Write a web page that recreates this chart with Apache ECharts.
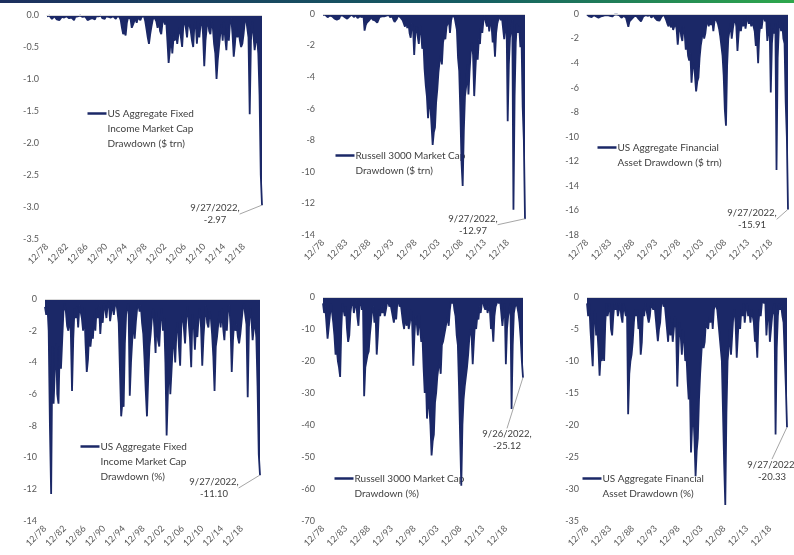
<!DOCTYPE html>
<html>
<head>
<meta charset="utf-8">
<script src="https://cdn.jsdelivr.net/npm/echarts@6/dist/echarts.min.js"></script>
<style>
  html, body { margin: 0; padding: 0; background: #fff; }
  #chart { width: 794px; height: 555px; }
</style>
</head>
<body>
<div id="chart"></div>
<script>
  // quarter ends, 12/78 .. 9/22
  var quarters = ['12/78']
  for (var y = 1979; y <= 2022; y++) {
    ['3', '6', '9', '12'].forEach(function (m) {
      if (y === 2022 && m === '12') return
      quarters.push(m + '/' + String(y).slice(2))
    })
  }

  var ticksFour = ['12/78', '12/82', '12/86', '12/90', '12/94', '12/98', '12/02', '12/06', '12/10', '12/14', '12/18']
  var ticksFive = ['12/78', '12/83', '12/88', '12/93', '12/98', '12/03', '12/08', '12/13', '12/18']

  var names = [
    'US Aggregate Fixed\nIncome Market Cap\nDrawdown ($ trn)',
    'Russell 3000 Market Cap\nDrawdown ($ trn)',
    'US Aggregate Financial\nAsset Drawdown ($ trn)',
    'US Aggregate Fixed\nIncome Market Cap\nDrawdown (%)',
    'Russell 3000 Market Cap\nDrawdown (%)',
    'US Aggregate Financial\nAsset Drawdown (%)'
  ]
  var endDates = ['9/27/2022', '9/27/2022', '9/27/2022', '9/27/2022', '9/26/2022', '9/27/2022']

  // US aggregate fixed income market cap drawdown, $ trn
  var fixedIncomeTrn = [-0.02,
    -0.03, -0.01, -0.04, -0.06, -0.08, -0.02, -0.05, -0.07, -0.05, -0.08, -0.09, -0.03, -0.02, -0.04, -0.01, -0.02,
    -0.03, -0.05, -0.02, -0.04, -0.06, -0.08, -0.03, -0.01, -0.02, -0.04, -0.01, -0.02, -0.03, -0.06, -0.02, -0.04,
    -0.08, -0.10, -0.06, -0.03, -0.05, -0.03, -0.07, -0.02, -0.04, -0.02, -0.03, -0.01, -0.05, -0.03, -0.06, -0.02,
    -0.01, -0.03, -0.02, -0.04, -0.05, -0.02, -0.03, -0.06, -0.02, -0.01, -0.03, -0.08, -0.20, -0.30, -0.26, -0.32,
    -0.12, -0.04, -0.02, -0.06, -0.20, -0.15, -0.10, -0.05, -0.12, -0.04, -0.02, -0.08, -0.03, -0.06, -0.02, -0.10,
    -0.22, -0.35, -0.45, -0.30, -0.18, -0.08, -0.02, -0.04, -0.10, -0.20, -0.05, -0.25, -0.30, -0.12, -0.05, -0.15,
    -0.08, -0.40, -0.75, -0.55, -0.30, -0.60, -0.35, -0.40, -0.25, -0.45, -0.30, -0.20, -0.35, -0.50, -0.15, -0.10,
    -0.20, -0.35, -0.08, -0.05, -0.25, -0.40, -0.50, -0.15, -0.10, -0.45, -0.20, -0.35, -0.15, -0.05, -0.30, -0.80,
    -0.40, -0.20, -0.05, -0.25, -0.30, -0.10, -0.20, -0.45, -0.60, -1.00, -0.70, -0.50, -0.30, -0.15, -0.40, -0.10,
    -0.35, -0.55, -0.20, -0.40, -0.10, -0.05, -0.30, -0.65, -0.45, -0.20, -0.35, -0.25, -0.40, -0.50, -0.45, -0.30,
    -0.10, -0.05, -0.20, -0.35, -1.55, -0.40, -0.10, -0.30, -0.55, -0.40, -0.35, -0.60,
    -1.25, -2.50, -2.97]

  // Russell 3000 market cap drawdown, $ trn
  var russellTrn = [-0.05,
    -0.10, -0.05, -0.15, -0.20, -0.25, -0.10, -0.05, -0.15, -0.20, -0.30, -0.40, -0.35, -0.45, -0.30, -0.10, -0.05,
    -0.10, -0.15, -0.20, -0.10, -0.30, -0.25, -0.15, -0.10, -0.05, -0.15, -0.20, -0.05, -0.10, -0.25, -0.30, -0.15,
    -0.10, -0.20, -0.05, -1.05, -0.70, -0.55, -0.60, -0.40, -0.30, -0.20, -0.35, -0.25, -0.40, -0.30, -0.55, -0.45,
    -0.20, -0.10, -0.15, -0.25, -0.15, -0.20, -0.10, -0.15, -0.05, -0.20, -0.10, -0.15, -0.35, -0.50, -0.40, -0.30,
    -0.10, -0.05, -0.20, -0.15, -0.40, -0.60, -0.80, -0.30, -0.90, -0.50, -1.20, -1.50, -0.60, -0.90, -2.60, -1.20,
    -0.80, -1.40, -1.90, -0.70, -1.20, -2.20, -1.80, -3.50, -4.50, -5.20, -6.60, -5.50, -5.80, -7.00, -8.30, -7.50,
    -7.20, -5.60, -4.80, -3.70, -3.00, -2.60, -3.20, -1.80, -1.40, -1.60, -0.80, -0.60, -0.30, -1.20, -0.40, -0.10,
    -0.05, -0.20, -0.60, -1.00, -2.80, -3.60, -6.20, -9.40, -10.90, -7.40, -5.20, -4.60, -3.20, -5.10, -3.60, -2.40,
    -1.80, -2.60, -5.20, -3.60, -2.10, -2.90, -1.60, -1.90, -0.60, -1.20, -0.40, -0.10, -0.50, -0.80, -0.30, -1.10,
    -0.40, -0.70, -1.80, -1.40, -2.70, -1.20, -0.60, -0.30, -0.10, -0.40, -0.20, -0.10, -1.60, -0.90, -0.20, -6.80,
    -3.20, -1.50, -1.00, -0.40, -12.40, -5.20, -1.80, -0.60, -1.20, -0.80, -2.10, -1.60,
    -5.90, -8.00, -12.97]

  // US aggregate financial asset drawdown, $ trn
  var financialTrn = [-0.05,
    -0.10, -0.20, -0.15, -0.25, -0.30, -0.10, -0.05, -0.20, -0.25, -0.30, -0.35, -0.20, -0.30, -0.15, -0.05, -0.10,
    -0.05, -0.10, -0.20, -0.15, -0.30, -0.20, -0.10, -0.05, -0.10, -0.05, -0.15, -0.10, -0.20, -0.30, -0.25, -0.15,
    -0.10, -0.30, -0.20, -1.05, -0.60, -0.50, -0.40, -0.30, -0.20, -0.30, -0.15, -0.25, -0.40, -0.35, -0.60, -0.45,
    -0.20, -0.15, -0.10, -0.25, -0.15, -0.20, -0.10, -0.30, -0.20, -0.10, -0.30, -0.40, -0.50, -0.65, -0.55, -0.40,
    -0.20, -0.10, -0.05, -0.15, -0.50, -0.80, -1.00, -0.40, -1.10, -0.60, -1.30, -1.00, -0.80, -1.20, -2.50, -1.40,
    -0.90, -1.80, -2.20, -1.00, -1.50, -2.90, -2.20, -3.40, -3.80, -3.20, -5.60, -4.20, -4.00, -5.00, -6.30, -5.50,
    -5.20, -3.60, -2.60, -2.00, -1.20, -2.00, -1.60, -0.80, -0.60, -1.00, -0.40, -0.90, -0.50, -1.40, -0.60, -0.30,
    -0.40, -0.80, -1.20, -1.80, -2.60, -3.40, -5.00, -7.80, -9.10, -4.20, -2.00, -1.40, -0.80, -2.00, -1.20, -0.60,
    -0.40, -1.00, -3.00, -1.60, -0.80, -1.40, -0.60, -1.00, -0.40, -1.20, -0.60, -0.20, -0.80, -0.40, -1.00, -0.60,
    -1.00, -1.40, -2.60, -2.00, -4.00, -1.60, -0.80, -1.20, -0.40, -0.20, -0.60, -0.30, -2.20, -1.40, -0.80, -6.40,
    -2.40, -1.20, -1.60, -0.80, -12.70, -3.60, -1.20, -0.50, -1.40, -0.80, -2.00, -2.40,
    -7.20, -10.00, -15.91]

  // US aggregate fixed income market cap drawdown, %
  var fixedIncomePct = [-0.5,
    -1.0, -0.4, -2.0, -8.0, -12.3, -3.0, -6.6, -4.5, -2.8, -6.0, -6.6, -3.0, -4.4, -2.6, -0.8, -0.3,
    -0.8, -1.7, -2.0, -1.2, -2.0, -5.8, -2.5, -0.6, -1.2, -0.5, -1.8, -0.4, -0.8, -1.2, -2.0, -0.5,
    -2.8, -4.6, -3.8, -2.0, -3.0, -2.2, -2.5, -1.0, -2.0, -0.6, -1.2, -0.4, -2.2, -1.0, -1.5, -0.3,
    -0.6, -1.2, -0.4, -0.2, -1.4, -0.8, -0.3, -1.0, -0.4, -0.2, -0.8, -1.5, -4.5, -7.4, -6.5, -6.8,
    -2.8, -1.0, -0.5, -0.3, -6.1, -4.0, -2.6, -1.2, -2.5, -1.4, -0.6, -0.3, -0.8, -0.4, -1.5, -2.2,
    -3.8, -5.8, -7.4, -5.0, -3.0, -2.2, -1.2, -0.6, -1.8, -3.4, -0.8, -2.6, -3.0, -1.4, -0.6, -2.0,
    -1.2, -4.0, -8.6, -6.0, -3.5, -6.0, -4.5, -3.0, -2.5, -4.0, -2.0, -1.5, -3.0, -4.2, -1.5, -1.0,
    -1.8, -2.8, -1.2, -0.5, -1.5, -2.5, -4.3, -1.0, -1.5, -3.2, -1.6, -2.4, -1.2, -0.6, -1.8, -4.2,
    -2.4, -1.2, -0.4, -1.5, -1.8, -0.8, -1.2, -2.2, -3.6, -5.8, -3.0, -2.4, -1.6, -0.8, -1.8, -0.6,
    -1.8, -2.6, -1.2, -2.0, -0.6, -0.4, -1.6, -4.6, -2.6, -1.4, -2.0, -1.6, -2.4, -2.8, -2.2, -1.4,
    -0.6, -0.3, -1.0, -1.6, -6.2, -1.8, -0.6, -1.2, -2.6, -1.8, -1.5, -2.4,
    -5.5, -9.8, -11.10]

  // Russell 3000 market cap drawdown, %
  var russellPct = [-2,
    -5, -3, -8, -13, -13.5, -6, -2, -5, -8, -12, -18, -16, -20, -22, -25, -10,
    -2, -4, -6, -3, -10, -14, -12, -5, -2, -1, -5, -3, -1, -6, -9, -2,
    -1, -4, -2, -31, -22, -20, -18, -17, -12, -8, -4, -3, -8, -5, -18, -12,
    -4, -6, -3, -5, -3, -6, -4, -2, -1, -3, -2, -4, -6, -8, -5, -7,
    -2, -1, -3, -2, -5, -8, -10, -4, -9, -6, -10, -8, -4, -8, -21.5, -12,
    -6, -8, -12, -5, -10, -14, -12, -22, -30, -25, -38, -32, -34, -40, -49.5, -45,
    -43, -33, -30, -25, -22, -20, -24, -15, -14, -12, -10, -8, -6, -9, -4, -1,
    -2, -1, -4, -6, -12, -15, -28, -44, -59, -40, -32, -28, -25, -22, -18, -13,
    -10, -12, -21, -14, -8, -10, -6, -7, -3, -5, -2, -1, -3, -4, -2, -5,
    -3, -4, -10, -8, -14, -6, -3, -2, -1, -2, -1, -1, -9, -5, -2, -21,
    -10, -6, -4, -2, -35, -15, -5, -3, -2, -3, -5, -8,
    -13, -20, -25.12]

  // US aggregate financial asset drawdown, %
  var financialPct = [-1,
    -3, -1, -5, -8, -10.8, -4, -2, -6, -5, -8, -12.3, -9, -10, -8, -10, -4,
    -1, -3, -2, -1, -5, -6, -3, -1, -2, -1, -3, -2, -1, -3, -4, -1,
    -1, -3, -2, -18.3, -12, -10, -9, -7, -4, -2, -3, -2, -5, -4, -9, -7,
    -2, -3, -1, -2, -2, -4, -3, -1, -1, -2, -1, -3, -5, -6.9, -5, -4,
    -1, -0.5, -1.5, -1, -3, -5, -7, -3, -6, -4, -7, -5, -3, -5, -14, -8,
    -4, -6, -9, -5, -7, -10, -9, -13, -16, -14, -24.3, -20, -18, -22, -28, -24,
    -22, -16, -12, -9, -6, -8, -7, -4, -4, -5, -3, -4, -2, -5, -2, -1,
    -1, -2, -4, -6, -8, -10, -18, -26, -32.5, -18, -10, -8, -5, -9, -6, -3,
    -2, -4, -9.5, -6, -3, -5, -2, -3, -1, -4, -2, -1, -3, -2, -4, -2,
    -3, -4, -7, -6, -9.5, -4, -2, -3, -1, -0.5, -1, -0.5, -6, -3, -2, -7,
    -5, -3, -2, -1, -21.5, -8, -3, -1, -2, -1.5, -3, -4,
    -9, -14, -20.33]

  var seriesData = [fixedIncomeTrn, russellTrn, financialTrn, fixedIncomePct, russellPct, financialPct]

  // layout of each panel
  var panels = [
    {grid: {left: 47, top: 15, width: 215, height: 224}, min: -3.5, interval: 0.5, digits: 1, ticks: ticksFour, legend: [85, 106], lab: [-47, 9]},
    {grid: {left: 323, top: 14, width: 202, height: 221}, min: -14, interval: 2, digits: 0, ticks: ticksFive, legend: [333, 148], lab: [-52, 6]},
    {grid: {left: 587, top: 14, width: 201, height: 221}, min: -18, interval: 2, digits: 0, ticks: ticksFive, legend: [595, 140], lab: [-36, 10]},
    {grid: {left: 45, top: 299, width: 215, height: 222}, min: -14, interval: 2, digits: 0, ticks: ticksFour, legend: [78, 439], lab: [-46, 13]},
    {grid: {left: 323, top: 297, width: 200, height: 224}, min: -70, interval: 10, digits: 0, ticks: ticksFive, legend: [332, 471], lab: [-16, 63]},
    {grid: {left: 587, top: 297, width: 200, height: 224}, min: -35, interval: 5, digits: 0, ticks: ticksFive, legend: [580, 471], lab: [-15, 44]}
  ]

  var navy = '#1b2867'
  var font = 'Lato, "Open Sans", sans-serif'
  var textColor = '#404040'

  var grids = [], xAxes = [], yAxes = [], series = [], graphics = []

  graphics.push({
    type: 'rect', left: 0, top: 0, shape: {width: 794, height: 3},
    style: {fill: new echarts.graphic.LinearGradient(0, 0, 1, 0, [
      {offset: 0, color: '#1c2f5e'}, {offset: 0.6, color: '#155e62'}, {offset: 1, color: '#2ea84c'}
    ])}
  })

  panels.forEach(function (p, i) {
    grids.push(p.grid)
    xAxes.push({
      type: 'category', gridIndex: i, data: quarters, boundaryGap: false,
      axisLine: {show: false}, axisTick: {show: false},
      axisLabel: {
        rotate: 45, fontSize: 9, color: '#595959', fontFamily: font, margin: 6,
        interval: (function (ticks) {
          return function (idx, val) { return ticks.indexOf(val) >= 0 }
        })(p.ticks)
      }
    })
    yAxes.push({
      type: 'value', gridIndex: i, min: p.min, max: 0, interval: p.interval,
      axisLine: {show: false}, axisTick: {show: false}, splitLine: {show: false},
      axisLabel: {
        fontSize: 9, color: '#595959', fontFamily: font, margin: 8,
        formatter: (function (d) {
          return function (v) { return v.toFixed(d) }
        })(p.digits)
      }
    })

    var vals = seriesData[i]
    var last = vals.length - 1
    var data = vals.map(function (v, k) {
      if (k !== last) return v
      return {
        value: v, symbol: 'circle', symbolSize: 1,
        label: {
          show: true, position: 'inside', fontSize: 9.5, color: textColor, fontFamily: font,
          lineHeight: 12, align: 'center',
          formatter: endDates[i] + ',\n' + v.toFixed(2)
        }
      }
    })

    series.push({
      type: 'line', name: names[i], xAxisIndex: i, yAxisIndex: i, data: data,
      symbol: 'none', showSymbol: true, showAllSymbol: true,
      lineStyle: {color: navy, width: 1.8}, itemStyle: {color: navy},
      areaStyle: {color: navy, opacity: 1},
      labelLayout: {dx: p.lab[0], dy: p.lab[1]},
      labelLine: {show: true, lineStyle: {color: '#a6a6a6', width: 1}},
      markLine: {
        silent: true, symbol: 'none', label: {show: false},
        lineStyle: {color: '#d9d9d9', width: 1, type: 'solid'},
        data: [{yAxis: 0}]
      },
      animation: false
    })

    graphics.push({
      type: 'group', left: p.legend[0], top: p.legend[1],
      children: [
        {type: 'line', shape: {x1: 0, y1: 7.5, x2: 19, y2: 7.5}, style: {stroke: navy, lineWidth: 2.5}},
        {type: 'text', x: 20, y: 0, style: {text: names[i], fontSize: 10, lineHeight: 15, fill: textColor, fontFamily: font}}
      ]
    })
  })

  var chart = echarts.init(document.getElementById('chart'))
  chart.setOption({
    backgroundColor: '#fff',
    animation: false,
    grid: grids,
    xAxis: xAxes,
    yAxis: yAxes,
    series: series,
    graphic: graphics
  })
</script>
</body>
</html>
